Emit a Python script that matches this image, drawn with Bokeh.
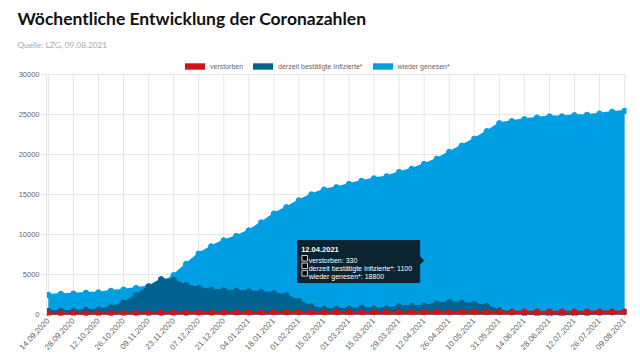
from bokeh.plotting import figure
from bokeh.models import Range1d, FixedTicker, Legend, LegendItem, NumeralTickFormatter, Title
from bokeh.embed import file_html
from bokeh.resources import INLINE
from bokeh.core.properties import value

# ---------------- data ----------------
dates = ["14.09.2020", "21.09.2020", "28.09.2020", "05.10.2020", "12.10.2020", "19.10.2020", "26.10.2020",
         "02.11.2020", "09.11.2020", "16.11.2020", "23.11.2020", "30.11.2020", "07.12.2020", "14.12.2020",
         "21.12.2020", "28.12.2020", "04.01.2021", "11.01.2021", "18.01.2021", "25.01.2021", "01.02.2021",
         "08.02.2021", "15.02.2021", "22.02.2021", "01.03.2021", "08.03.2021", "15.03.2021", "22.03.2021",
         "29.03.2021", "05.04.2021", "12.04.2021", "19.04.2021", "26.04.2021", "03.05.2021", "10.05.2021",
         "17.05.2021", "31.05.2021", "07.06.2021", "14.06.2021", "21.06.2021", "28.06.2021", "05.07.2021",
         "12.07.2021", "19.07.2021", "26.07.2021", "02.08.2021", "09.08.2021"]

verstorben = [140, 140, 145, 145, 150, 150, 155, 160, 165, 175,
              185, 200, 215, 230, 245, 260, 275, 290, 300, 310,
              315, 318, 320, 322, 323, 325, 326, 327, 328, 329,
              330, 332, 335, 338, 340, 342, 345, 348, 350, 352,
              355, 356, 357, 358, 360, 361, 362]

infizierte = [450, 450, 450, 550, 600, 900, 1450, 2400, 3500, 4400,
              4300, 3650, 3300, 3100, 3000, 2950, 2900, 2800, 2650, 2400,
              1700, 1000, 700, 700, 700, 850, 750, 750, 1000, 1050,
              1100, 1350, 1550, 1450, 1300, 1050, 500, 250, 120, 20,
              0, 0, 20, 100, 200, 250, 300]

genesen = [2450, 2550, 2600, 2700, 2750, 2950, 3100, 3300, 3500, 3800,
           4900, 6300, 7600, 8500, 9250, 9800, 10500, 11500, 12600, 13400,
           14250, 15000, 15600, 15900, 16300, 16700, 17000, 17250, 17800, 18200,
           18800, 19450, 20300, 21100, 21950, 22900, 23900, 24150, 24400, 24600,
           24750, 24750, 24900, 24950, 25100, 25300, 25450]

series_names = ["verstorben", "derzeit bestätigte Infizierte*", "wieder genesen*"]
y_ticks = [0, 5000, 10000, 15000, 20000, 25000, 30000]
tooltip_index = 30

title_text = "Wöchentliche Entwicklung der Coronazahlen"
subtitle_text = "Quelle: LZG, 09.08.2021"

# ---------------- styling ----------------
RED = "#d0141c"
DARK = "#00638f"
LIGHT = "#009fe3"
GRID = "#e6e6e6"
TICK_FONT = "Liberation Sans"

W, H = 640, 357
B_LEFT, B_RIGHT, B_TOP, B_BOTTOM = 46, 14, 56, 42
FRAME_W = W - B_LEFT - B_RIGHT
FRAME_H = H - B_TOP - B_BOTTOM
UY = 240.0 / 30000            # px per unit so that 0..30000 spans 240 px
X0, X1 = -0.15, len(dates) - 1 + 0.15
Y0 = -1.0 / UY
Y1 = Y0 + FRAME_H / UY
ux = FRAME_W / (X1 - X0)
uy = UY

p = figure(width=W, height=H, output_backend="svg", toolbar_location=None,
           x_range=Range1d(X0, X1), y_range=Range1d(Y0, Y1),
           min_border_left=B_LEFT, min_border_right=B_RIGHT,
           min_border_top=B_TOP, min_border_bottom=B_BOTTOM)
p.outline_line_color = None
p.background_fill_color = "white"

x = list(range(len(dates)))
zeros = [0] * len(x)
label_idx = x[::2]

# vertical grid lines limited to the value range
p.segment(x0=label_idx, y0=[0] * len(label_idx), x1=label_idx, y1=[y_ticks[-1]] * len(label_idx),
          line_color=GRID, line_width=1)

renderers = []
for vals, col in [(genesen, LIGHT), (infizierte, DARK), (verstorben, RED)]:
    r = p.varea(x=x, y1=zeros, y2=vals, fill_color=col)
    p.line(x, vals, line_color=col, line_width=2)
    p.scatter(x, vals, size=5.5, fill_color=col, line_color=col)
    renderers.append(r)
r_gen, r_inf, r_ver = renderers

# axes
p.xaxis.ticker = FixedTicker(ticks=label_idx)
p.xaxis.major_label_overrides = {i: dates[i] for i in label_idx}
p.xaxis.major_label_orientation = 0.82
p.yaxis.ticker = FixedTicker(ticks=y_ticks)
p.yaxis.formatter = NumeralTickFormatter(format="0")
p.yaxis.bounds = (0, y_ticks[-1])
for ax in (p.xaxis, p.yaxis):
    ax.axis_line_color = GRID
    ax.major_tick_line_color = GRID
    ax.major_tick_out = 5
    ax.major_tick_in = 0
    ax.minor_tick_line_color = None
    ax.major_label_text_color = "#666666"
    ax.major_label_text_font = TICK_FONT
    ax.major_label_text_font_size = "7.5px"
    ax.major_label_standoff = 2
p.xaxis.major_label_text_font_size = "8px"
p.xaxis.major_tick_out = 3
p.xaxis.major_label_standoff = 1
p.xaxis.axis_line_color = None
p.xgrid.grid_line_color = None
p.ygrid.grid_line_color = GRID
p.ygrid.ticker = FixedTicker(ticks=y_ticks)

# legend (inside the frame, above the 30000 line); location gives its bottom-left corner
legend = Legend(items=[LegendItem(label=series_names[0], renderers=[r_ver]),
                       LegendItem(label=series_names[1], renderers=[r_inf]),
                       LegendItem(label=series_names[2], renderers=[r_gen])],
                orientation="horizontal", location=(136, FRAME_H + B_TOP - 70),
                label_text_font_size="7px", label_text_color="#666666",
                label_text_font=TICK_FONT, glyph_width=25, glyph_height=8,
                label_height=8, label_standoff=3, spacing=7, padding=0, margin=0,
                border_line_alpha=0, background_fill_alpha=0)
p.add_layout(legend, "center")

# subtitle first (closest to the frame), then the main title
p.add_layout(Title(text=subtitle_text, text_font="Lato", text_font_style="normal",
                   text_font_size="8.3px", text_color="#aaaaaa", align="left",
                   offset=17 - B_LEFT, standoff=13), "above")
p.add_layout(Title(text=title_text, text_font="Lato", text_font_style="bold",
                   text_font_size="17.5px", text_color="#111111", align="left",
                   offset=17 - B_LEFT, standoff=5), "above")

# tooltip (static) anchored at the hovered week
tx = tooltip_index
ty = (verstorben[tx] + infizierte[tx] + genesen[tx]) / 3.0
def dx(px):
    return px / ux
def dy(px):
    return px / uy
TT_BG = "#0b2430"
p.quad(left=[tx + dx(-126.5)], right=[tx + dx(-4.5)], top=[ty + dy(20)], bottom=[ty + dy(-22)],
       fill_color=TT_BG, line_color=TT_BG)
p.patch([tx + dx(-4.5), tx + dx(-0.5), tx + dx(-4.5)], [ty + dy(4), ty, ty + dy(-4)],
        fill_color=TT_BG, line_color=TT_BG)
p.text(x=[tx + dx(-123)], y=[ty + dy(11.5)], text=[dates[tx]],
       text_font=value(TICK_FONT), text_font_size=value("7.5px"), text_font_style="bold",
       text_color="white", text_baseline="alphabetic")
lines = [f"{series_names[0]}: {verstorben[tx]}",
         f"{series_names[1]}: {infizierte[tx]}",
         f"{series_names[2]}: {genesen[tx]}"]
base = [-0.4, -8, -15.5]
p.text(x=[tx + dx(-115.5)] * 3, y=[ty + dy(b) for b in base], text=lines,
       text_font=value(TICK_FONT), text_font_size=value("7px"),
       text_color="white", text_baseline="alphabetic")
p.scatter(x=[tx + dx(-119.5)] * 3, y=[ty + dy(b + 2.7) for b in base], marker="square",
          size=5.5, fill_color="black", line_color="white", line_width=0.8)

open("out.html", "w").write(file_html(p, INLINE))
